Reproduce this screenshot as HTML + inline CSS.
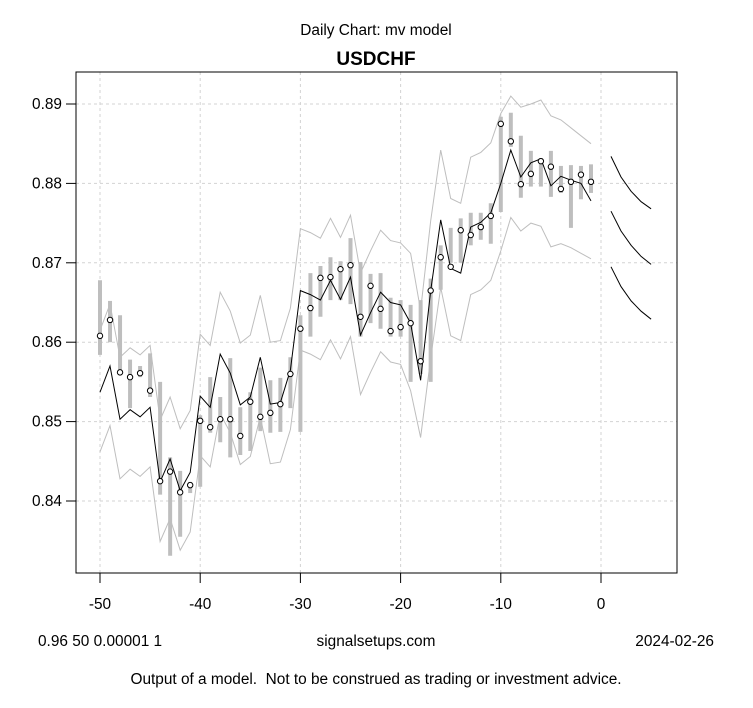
<!DOCTYPE html>
<html><head><meta charset="utf-8"><style>
html,body{margin:0;padding:0;background:#fff;overflow:hidden;}
svg{display:block;font-family:"Liberation Sans",Arial,sans-serif;}
</style></head><body>
<svg id="chart" width="753" height="708" viewBox="0 0 753 708" xmlns="http://www.w3.org/2000/svg">
<defs><clipPath id="pc"><rect x="76" y="72" width="601" height="501"/></clipPath></defs>
<rect x="0" y="0" width="753" height="708" fill="#fff"/>
<text x="376" y="35" text-anchor="middle" font-size="15.4">Daily Chart: mv model</text>
<text x="376" y="65" text-anchor="middle" font-size="19" font-weight="bold">USDCHF</text>
<g id="grid"></g>
<g clip-path="url(#pc)">
<g id="bands"></g>
<g id="bars"></g>
<g id="model"></g>
<g id="pts"></g>
<g id="fc"></g>
</g>
<rect x="76" y="72" width="601" height="501" fill="none" stroke="#000" stroke-width="1"/>
<g id="axes"></g>
<text x="38" y="646" font-size="15.4">0.96 50 0.00001 1</text>
<text x="376" y="646" text-anchor="middle" font-size="15.4">signalsetups.com</text>
<text x="714" y="646" text-anchor="end" font-size="15.4">2024-02-26</text>
<text x="376" y="684" text-anchor="middle" font-size="15.4" style="white-space:pre">Output of a model.  Not to be construed as trading or investment advice.</text>
</svg>
<script>
const days = [-50,-49,-48,-47,-46,-45,-44,-43,-42,-41,-40,-39,-38,-37,-36,-35,-34,-33,-32,-31,-30,-29,-28,-27,-26,-25,-24,-23,-22,-21,-20,-19,-18,-17,-16,-15,-14,-13,-12,-11,-10,-9,-8,-7,-6,-5,-4,-3,-2,-1];
const closes = [.8608,.8628,.8562,.8556,.8561,.8539,.8425,.8437,.8411,.8420,.8501,.8493,.8503,.8503,.8482,.8525,.8506,.8511,.8522,.8560,.8617,.8643,.8681,.8682,.8692,.8697,.8632,.8671,.8642,.8614,.8619,.8624,.8576,.8665,.8707,.8695,.8741,.8735,.8745,.8759,.8875,.8853,.8799,.8812,.8828,.8821,.8793,.8802,.8811,.8802];
const highs = [.8678,.8652,.8634,.8578,.8570,.8586,.8550,.8455,.8438,.8424,.8508,.8556,.8531,.8580,.8518,.8537,.8568,.8552,.8555,.8581,.8634,.8687,.8696,.8707,.8702,.8731,.8701,.8686,.8687,.8656,.8653,.8647,.8653,.8680,.8722,.8744,.8756,.8763,.8763,.8775,.8884,.8889,.8860,.8841,.8832,.8841,.8822,.8823,.8822,.8824];
const lows = [.8584,.8600,.8561,.8517,.8556,.8531,.8408,.8331,.8355,.8410,.8418,.8486,.8474,.8455,.8458,.8463,.8488,.8486,.8487,.8517,.8487,.8607,.8632,.8653,.8653,.8648,.8607,.8624,.8617,.8607,.8607,.8550,.8560,.8550,.8666,.8700,.8700,.8722,.8729,.8724,.8764,.8846,.8782,.8796,.8796,.8783,.8788,.8744,.8780,.8788];
const model = [.8537,.8570,.8503,.8515,.8506,.8518,.8424,.8453,.8413,.8436,.8532,.8518,.8585,.8561,.8521,.8531,.8581,.8522,.8524,.8565,.8665,.8660,.8653,.8678,.8654,.8682,.8609,.8637,.8663,.8650,.8647,.8624,.8552,.8665,.8754,.8693,.8687,.8745,.8751,.8763,.8800,.8842,.8808,.8826,.8831,.8797,.8809,.8804,.8800,.8778];
const upper = [.8615,.8648,.8581,.8593,.8584,.8596,.8502,.8531,.8491,.8514,.8610,.8596,.8663,.8639,.8599,.8609,.8659,.8600,.8602,.8643,.8743,.8738,.8731,.8756,.8732,.8760,.8687,.8715,.8741,.8728,.8725,.8712,.8640,.8753,.8842,.8781,.8775,.8833,.8839,.8851,.8888,.8910,.8896,.8900,.8905,.8885,.8880,.8870,.8860,.8850];
const lower = [.8462,.8495,.8428,.8440,.8431,.8443,.8349,.8378,.8338,.8361,.8457,.8443,.8510,.8486,.8446,.8456,.8506,.8447,.8449,.8490,.8590,.8585,.8578,.8603,.8579,.8607,.8534,.8562,.8588,.8575,.8572,.8539,.8480,.8580,.8669,.8608,.8602,.8660,.8666,.8678,.8715,.8757,.8740,.8750,.8746,.8720,.8724,.8719,.8712,.8705];
const fcDays = [1,2,3,4,5];
const fcMid = [.8765,.8740,.8722,.8708,.8698];
const fcUp = [.8834,.8808,.8790,.8777,.8768];
const fcLo = [.8695,.8670,.8652,.8639,.8629];
const xTicks = [-50,-40,-30,-20,-10,0];
const yTicks = [0.84,0.85,0.86,0.87,0.88,0.89];

const NS="http://www.w3.org/2000/svg";
function X(d){return 100+(d+50)*10.02;}
function Y(v){return 104+(0.89-v)*7940;}
function mk(tag,parent,attrs){const e=document.createElementNS(NS,tag);for(const k in attrs)e.setAttribute(k,attrs[k]);document.getElementById(parent).appendChild(e);return e;}
function pl(xs,ys){return xs.map((d,i)=>X(d).toFixed(1)+","+Y(ys[i]).toFixed(1)).join(" ");}

xTicks.forEach(t=>{
  const g=mk('line','grid',{x1:X(t),x2:X(t),y1:72,y2:573,stroke:'#d3d3d3','stroke-dasharray':'3,3'});
  
  
  const tk=mk('line','axes',{x1:X(t),x2:X(t),y1:573,y2:583,stroke:'#000'});
  
  
  const lb=mk('text','axes',{x:X(t),y:609,'text-anchor':'middle','font-size':15.4});
  
  
  lb.textContent=t;
});
yTicks.forEach(t=>{
  const g=mk('line','grid',{x1:76,x2:677,y1:Y(t),y2:Y(t),stroke:'#d3d3d3','stroke-dasharray':'3,3'});
  
  
  const tk=mk('line','axes',{x1:66,x2:76,y1:Y(t),y2:Y(t),stroke:'#000'});
  
  
  const lb=mk('text','axes',{x:62,y:Y(t)+5,'text-anchor':'end','font-size':15.4});
  
  
  lb.textContent=t.toFixed(2);
});
const ub=mk('polyline','bands',{points:pl(days,upper),fill:'none',stroke:'#bebebe','stroke-width':1});


const lbd=mk('polyline','bands',{points:pl(days,lower),fill:'none',stroke:'#bebebe','stroke-width':1});


days.forEach((d,i)=>{
  const b=mk('line','bars',{x1:X(d),x2:X(d),y1:Y(highs[i]),y2:Y(lows[i]),stroke:'#bebebe','stroke-width':4});
  
  
});
const ml=mk('polyline','model',{points:pl(days,model),fill:'none',stroke:'#000','stroke-width':1});


days.forEach((d,i)=>{
  const c=mk('circle','pts',{cx:X(d),cy:Y(closes[i]),r:2.7,fill:'#fff',stroke:'#000','stroke-width':1});
  
  
});
[[fcUp,'forecast-upper'],[fcMid,'forecast-mid'],[fcLo,'forecast-lower']].forEach(p=>{
  const f=mk('polyline','fc',{points:pl(fcDays,p[0]),fill:'none',stroke:'#000','stroke-width':1});
  
  
});
</script>
</body></html>
